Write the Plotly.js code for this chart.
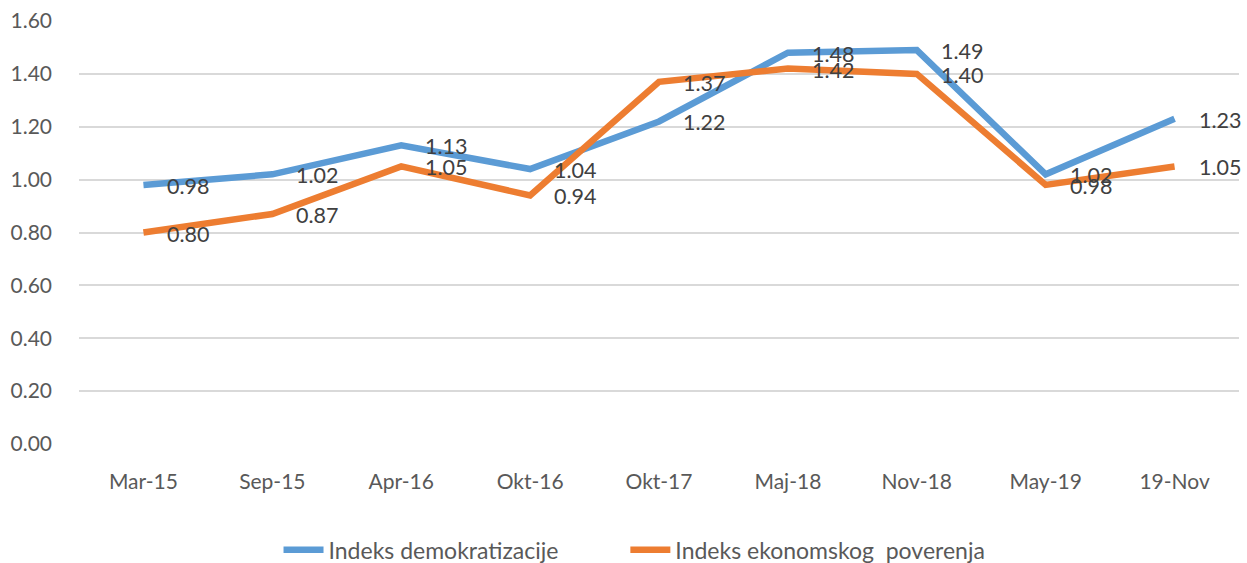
<!DOCTYPE html>
<html>
<head>
<meta charset="utf-8">
<script src="https://cdn.plot.ly/plotly-3.0.1.min.js"></script>
<style>html,body{margin:0;padding:0;background:#fff;}#chart{width:1247px;height:563px;}</style>
</head>
<body>
<div id="chart"></div>
<script>
const categories = ["Mar-15","Sep-15","Apr-16","Okt-16","Okt-17","Maj-18","Nov-18","May-19","19-Nov"];
const demokratizacija = [0.98,1.02,1.13,1.04,1.22,1.48,1.49,1.02,1.23];
const ekonomskoPoverenje = [0.80,0.87,1.05,0.94,1.37,1.42,1.40,0.98,1.05];
const seriesNames = ["Indeks demokratizacije","Indeks ekonomskog  poverenja"];
const yTicks = [0,0.2,0.4,0.6,0.8,1.0,1.2,1.4,1.6];
const gridTicks = [0.2,0.4,0.6,0.8,1.0,1.2,1.4,1.6];

const FONT = "Lato, 'Open Sans', sans-serif";
const colors = ["#5B9BD5","#ED7D31"];

const traces = [
  {x: categories, y: demokratizacija, name: seriesNames[0], type: "scatter", mode: "lines",
   line: {color: colors[0], width: 6.5}, legend: "legend"},
  {x: categories, y: ekonomskoPoverenje, name: seriesNames[1], type: "scatter", mode: "lines",
   line: {color: colors[1], width: 6.5}, legend: "legend2"},
  {x: [categories[0]], y: [null], yaxis: "y2", showlegend: false, hoverinfo: "skip", mode: "lines"}
];

const annotations = [];
[demokratizacija, ekonomskoPoverenje].forEach(function(arr){
  arr.forEach(function(v, i){
    annotations.push({x: categories[i], y: v, text: v.toFixed(2), showarrow: false,
      xanchor: "left", yanchor: "middle", xshift: 22, yshift: -1,
      font: {family: FONT, size: 21.5, color: "#404040"}});
  });
});

const legendBase = {orientation: "h", y: -0.25, yanchor: "middle", xanchor: "left",
  font: {family: FONT, size: 23, color: "#595959"}, itemwidth: 40, bgcolor: "rgba(0,0,0,0)"};

const layout = {
  width: 1247, height: 563,
  margin: {l: 79, r: 8, t: 21, b: 119, autoexpand: false},
  paper_bgcolor: "#fff", plot_bgcolor: "rgba(0,0,0,0)",
  showlegend: true,
  legend: Object.assign({}, legendBase, {x: 0.172}),
  legend2: Object.assign({}, legendBase, {x: 0.471}),
  xaxis: {type: "category", range: [-0.5, 8.5], showgrid: false, zeroline: false, showline: false, ticks: "",
    tickfont: {family: FONT, size: 21, color: "#595959"}, ticklabelstandoff: 23, fixedrange: true},
  yaxis: {range: [0, 1.6], tickvals: yTicks, tickformat: ".2f", showgrid: false, zeroline: false,
    showline: false, ticks: "", tickfont: {family: FONT, size: 21, color: "#595959"},
    ticklabelstandoff: 26},
  yaxis2: {range: [0, 1.6], overlaying: "y", tickvals: gridTicks, showticklabels: false,
    showgrid: true, gridcolor: "#D9D9D9", gridwidth: 2, zeroline: false, showline: false, ticks: ""},
  annotations: annotations
};

Plotly.newPlot("chart", traces, layout, {displayModeBar: false, staticPlot: true});
</script>
</body>
</html>
